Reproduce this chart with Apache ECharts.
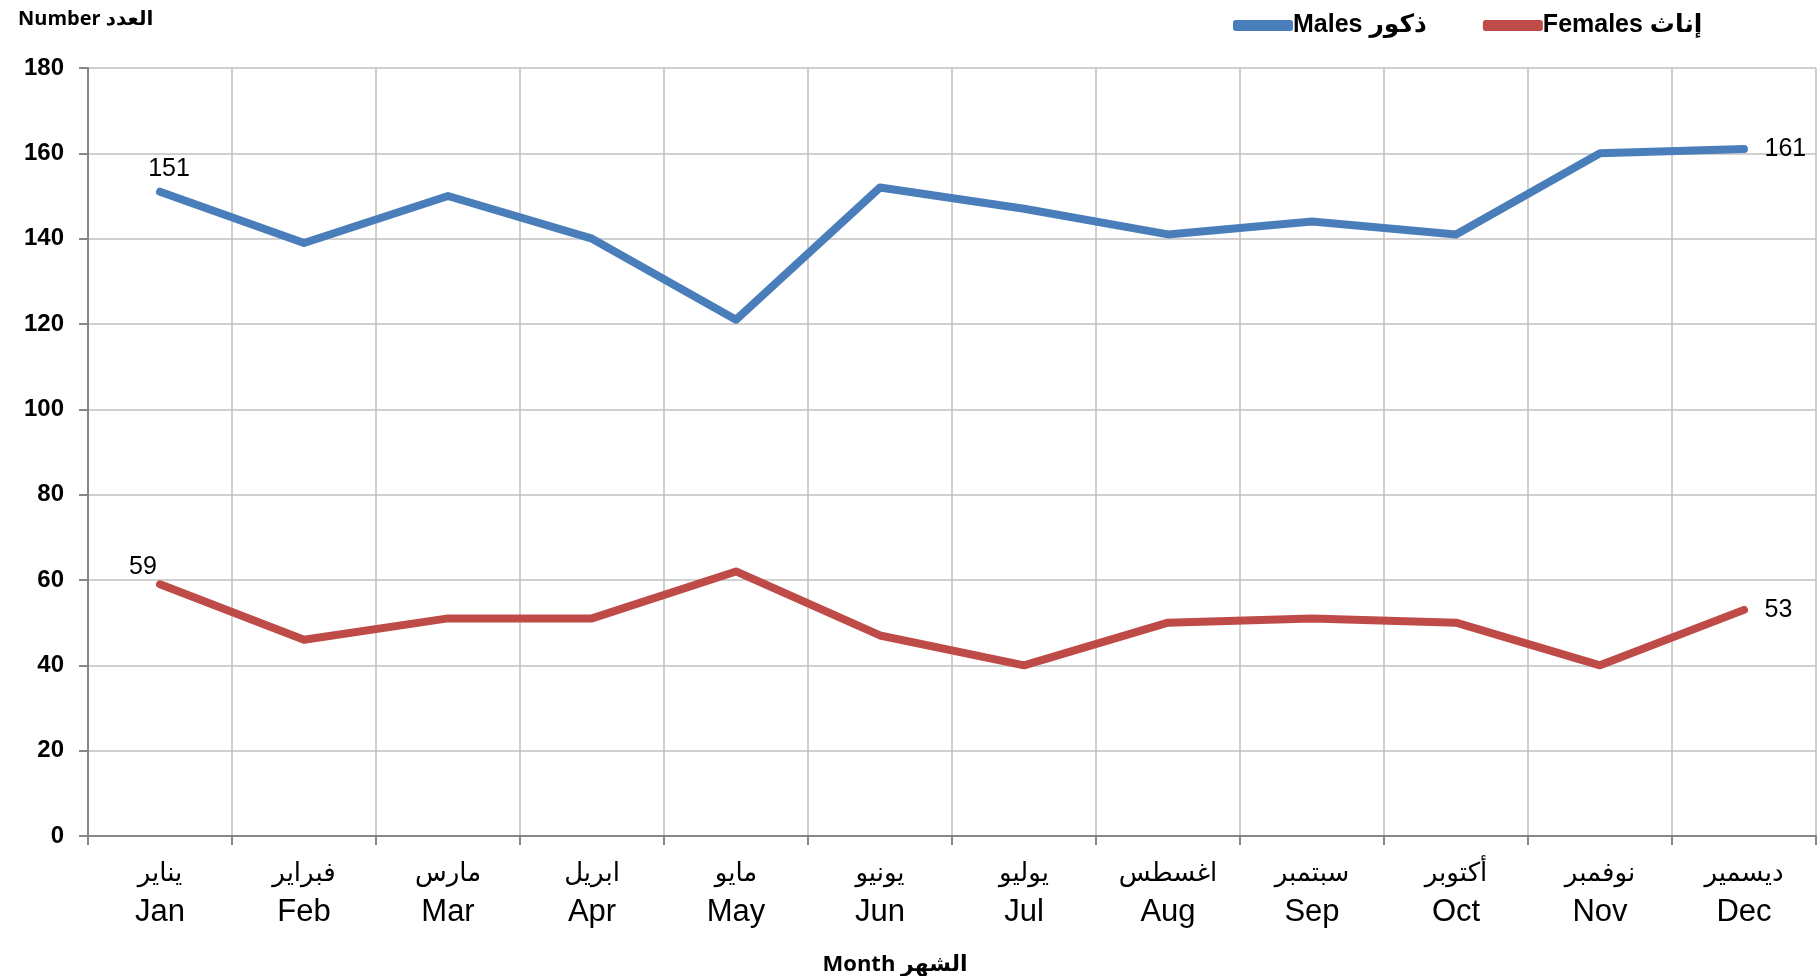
<!DOCTYPE html>
<html>
<head>
<meta charset="utf-8">
<script src="https://cdn.jsdelivr.net/npm/echarts@6/dist/echarts.min.js"></script>
<style>
  html, body { margin: 0; padding: 0; background: #fff; }
  #chart { width: 1818px; height: 976px; }
</style>
</head>
<body>
<div id="chart"></div>
<script>
// months, Arabic on top, English below
const monthsAr = ['يناير', 'فبراير', 'مارس', 'ابريل', 'مايو', 'يونيو', 'يوليو', 'اغسطس', 'سبتمبر', 'أكتوبر', 'نوفمبر', 'ديسمير'];
const monthsEn = ['Jan', 'Feb', 'Mar', 'Apr', 'May', 'Jun', 'Jul', 'Aug', 'Sep', 'Oct', 'Nov', 'Dec'];
const males = [151, 139, 150, 140, 121, 152, 147, 141, 144, 141, 160, 161];
const females = [59, 46, 51, 51, 62, 47, 40, 50, 51, 50, 40, 53];

const categories = monthsEn.map((m, i) => monthsAr[i] + '\n' + m);

// only first and last points carry a label
const withEndLabels = (arr, firstOffset, firstDist) => arr.map((v, i) => {
    if (i === 0) return { value: v, label: { show: true, position: 'top', distance: firstDist, offset: firstOffset } };
    if (i === arr.length - 1) return { value: v, label: { show: true, position: 'right', distance: 20 } };
    return v;
});

const boldFont = 'Open Sans, DejaVu Sans, sans-serif';

const chart = echarts.init(document.getElementById('chart'));
const option = {
    animation: false,
    textStyle: { fontFamily: 'Liberation Sans, DejaVu Sans, sans-serif' },
    title: {
        text: 'Number العدد',
        left: 13,
        top: 4,
        textStyle: { fontSize: 20, fontWeight: 'bold', color: '#000', fontFamily: boldFont }
    },
    legend: {
        top: 8,
        left: 1228,
        itemGap: 56,
        itemWidth: 60,
        itemHeight: 11,
        icon: 'roundRect',
        textStyle: {
            fontSize: 25, fontWeight: 'bold', color: '#000',
            fontFamily: 'Liberation Sans Narrow, Liberation Sans, DejaVu Sans, sans-serif',
            padding: [0, 0, 0, -5]
        },
        data: ['Males ذكور', 'Females إناث']
    },
    grid: { left: 88, right: 2, top: 68, bottom: 140, outerBoundsMode: 'none' },
    xAxis: {
        type: 'category',
        data: categories,
        boundaryGap: true,
        name: 'Month الشهر',
        nameLocation: 'middle',
        nameGap: 118,
        nameTextStyle: { fontSize: 22, fontWeight: 'bold', color: '#000', fontFamily: boldFont, padding: [0, 114, 0, 0] },
        axisLine: { lineStyle: { color: '#868686', width: 2 } },
        axisTick: { show: true, length: 9, lineStyle: { color: '#868686', width: 2 } },
        splitLine: { show: true, lineStyle: { color: '#c0c0c0', width: 1.5 } },
        axisLabel: {
            interval: 0,
            margin: 20,
            color: '#000',
            formatter: v => {
                const p = v.split('\n');
                return '{ar|' + p[0] + '}\n{en|' + p[1] + '}';
            },
            rich: {
                ar: { fontSize: 26, lineHeight: 36, color: '#000', fontFamily: 'DejaVu Sans, sans-serif' },
                en: { fontSize: 31, lineHeight: 40, color: '#000' }
            }
        }
    },
    yAxis: {
        type: 'value',
        min: 0,
        max: 180,
        interval: 20,
        axisLine: { show: true, lineStyle: { color: '#868686', width: 2 } },
        axisTick: { show: true, length: 9, lineStyle: { color: '#868686', width: 2 } },
        splitLine: { show: true, lineStyle: { color: '#c0c0c0', width: 1.5 } },
        axisLabel: { fontSize: 24, fontWeight: 'bold', color: '#000', margin: 24 }
    },
    series: [
        {
            name: 'Males ذكور',
            type: 'line',
            data: withEndLabels(males, [9, 0], 10),
            symbol: 'circle',
            symbolSize: 1,
            showSymbol: true,
            color: '#4a7ebb',
            lineStyle: { width: 8, cap: 'round', join: 'round' },
            label: { fontSize: 25, color: '#000' }
        },
        {
            name: 'Females إناث',
            type: 'line',
            data: withEndLabels(females, [-17, 0], 4),
            symbol: 'circle',
            symbolSize: 1,
            showSymbol: true,
            color: '#be4b48',
            lineStyle: { width: 8, cap: 'round', join: 'round' },
            label: { fontSize: 25, color: '#000' }
        }
    ]
};
option && chart.setOption(option);
</script>
</body>
</html>
